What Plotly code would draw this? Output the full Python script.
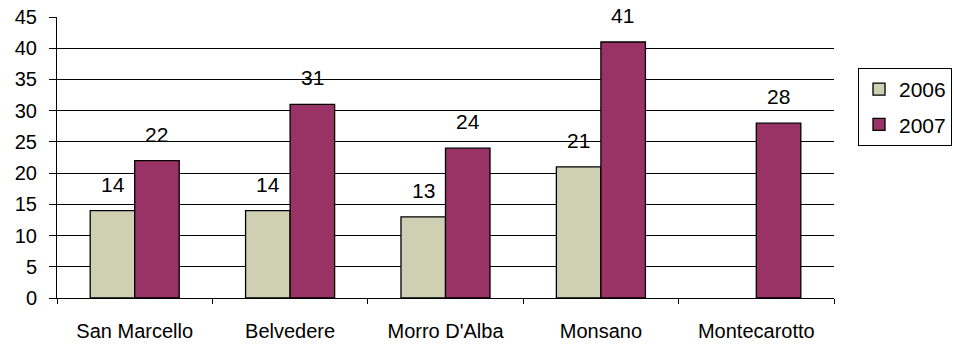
import plotly.graph_objects as go

categories = ["San Marcello", "Belvedere", "Morro D'Alba", "Monsano", "Montecarotto"]
values_2006 = [14, 14, 13, 21, None]
values_2007 = [22, 31, 24, 41, 28]
series_names = ["2006", "2007"]
y_ticks = [0, 5, 10, 15, 20, 25, 30, 35, 40, 45]

colors = ["#CFCFB4", "#993366"]
font_family = "Liberation Sans, Arial, sans-serif"
fs = 20

fig = go.Figure()
for name, vals, col in zip(series_names, [values_2006, values_2007], colors):
    fig.add_trace(go.Bar(
        x=categories, y=vals, name=name, legendgroup=name,
        marker=dict(color=col, line=dict(color="#000000", width=1.3)),
    ))

annotations = []
for vals, shift in [(values_2006, -22), (values_2007, 22)]:
    for c, v in zip(categories, vals):
        if v is None:
            continue
        annotations.append(dict(
            x=c, y=v, text=str(v), showarrow=False, xref="x", yref="y",
            xshift=shift, yshift=13, yanchor="bottom",
            font=dict(size=21, color="#000000", family=font_family),
        ))

fig.update_layout(
    width=954, height=347,
    margin=dict(l=57, r=120, t=17, b=49, autoexpand=False),
    paper_bgcolor="white", plot_bgcolor="white",
    barmode="group", bargap=0.427, bargroupgap=0,
    font=dict(family=font_family, size=fs, color="#000000"),
    annotations=annotations,
    legend=dict(
        x=1.0 + (858 - 834) / (834 - 57), xanchor="left", xref="paper",
        y=(298 - 68) / (298 - 17), yanchor="top",
        bordercolor="#000000", borderwidth=1,
        font=dict(size=21, family=font_family),
        itemwidth=30, tracegroupgap=5,
    ),
    showlegend=True,
)
fig.update_xaxes(
    showline=True, linecolor="#000000", linewidth=1,
    ticks="outside", tickson="boundaries", ticklen=5, tickcolor="#000000",
    ticklabelstandoff=15, automargin=False,
    tickfont=dict(size=fs, family=font_family),
    showgrid=False,
)
fig.update_yaxes(
    range=[0, 45], tickvals=y_ticks,
    showline=True, linecolor="#000000", linewidth=1,
    ticks="outside", ticklen=7, tickcolor="#000000",
    ticklabelstandoff=8, automargin=False,
    showgrid=True, gridcolor="#000000", gridwidth=1,
    zeroline=False,
    tickfont=dict(size=fs, family=font_family),
)

fig.write_html("out.html")
